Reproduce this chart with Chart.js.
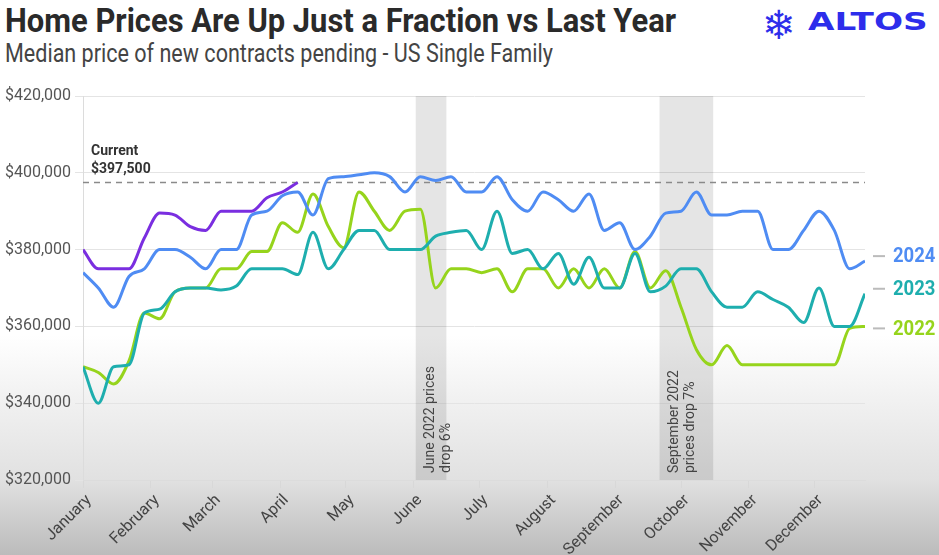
<!DOCTYPE html>
<html>
<head>
<meta charset="utf-8">
<script src="https://cdn.jsdelivr.net/npm/chart.js@4"></script>
<style>
  body {
    margin: 0; width: 939px; height: 555px; overflow: hidden; position: relative;
    font-family: Roboto, sans-serif;
    background: linear-gradient(to bottom, #fff 0px, #fff 335px, #f1f1f1 400px, #e1e1e1 480px, #bbbbbb 555px);
  }
  #chart { position: absolute; left: 0; top: 0; }
  .fit { position: absolute; white-space: nowrap; transform-origin: 0 0; line-height: 1; }
  #title { left: 5px; top: 3px; font-size: 34px; font-weight: 700; color: #2a2a2a; }
  #sub { left: 5px; top: 40px; font-size: 26px; color: #444; }
  #icon { left: 762px; top: 5px; font-size: 40px; color: #2d2deb; font-family: "DejaVu Sans"; }
  #brand { left: 808px; top: 9px; font-size: 25px; font-weight: 700; color: #2d2deb; font-family: "DejaVu Sans"; }
</style>
</head>
<body>
<div id="title" class="fit" data-w="671">Home Prices Are Up Just a Fraction vs Last Year</div>
<div id="sub" class="fit" data-w="548">Median price of new contracts pending - US Single Family</div>
<div id="icon" class="fit">❄</div>
<div id="brand" class="fit" data-w="119">ALTOS</div>
<canvas id="chart" width="939" height="555"></canvas>
<script>
// weekly median price of new pending contracts, in $ thousands (week 0 = first week of January)
const y2025 = [380, 375, 375, 375, 383, 389.5, 389, 386, 385, 390, 390, 390, 393.5, 395, 397.5];
const y2024 = [374, 370, 365, 373, 375, 380, 380, 378, 375, 380, 380, 389, 390, 394, 395, 389, 398.5, 399, 399.5, 400,
  399, 395, 399, 398, 399, 395, 395, 399, 393, 390, 395, 393, 390, 394.5, 385, 387, 380, 383.5, 389.5, 390,
  395, 389, 389, 390, 390, 380, 380, 385, 390, 385, 375, 377];
const y2023 = [349.5, 340, 349.5, 350, 363.5, 364.5, 369, 370, 370, 369.5, 370.5, 375, 375, 375, 373.5, 384.5, 375, 380, 385, 385,
  380, 380, 380, 383.5, 384.5, 385, 380, 390, 379, 380, 375, 379, 371, 378, 370, 370, 379, 369, 370.5, 375,
  375, 369, 365, 365, 369, 367, 365, 361, 370, 360, 360, 368.5];
const y2022 = [349.5, 348, 345, 351, 363.5, 362, 369, 370, 370, 375, 375, 379.5, 379.5, 387, 384.5, 394.5, 386, 380.5, 395, 390,
  385, 390, 390.5, 370, 375, 375, 374, 375, 369, 375, 375, 370, 375, 370, 375, 370, 379.5, 370, 374.5, 365,
  354, 350, 355, 350, 350, 350, 350, 350, 350, 350, 359.5, 360];

const months = ["January", "February", "March", "April", "May", "June", "July", "August", "September", "October", "November", "December"];
const monthDays = [0, 31, 59, 90, 120, 151, 181, 212, 243, 273, 304, 334];
const yTicks = [320000, 340000, 360000, 380000, 400000, 420000];
const current = 397500;

// shaded periods, in weeks
const bands = [
  { from: 21.7, to: 23.7, text: ["June 2022 prices", "drop 6%"] },
  { from: 37.6, to: 41.1, text: ["September 2022", "prices drop 7%"] }
];

// squeeze the header texts to the reference widths
document.querySelectorAll(".fit[data-w]").forEach(el => {
  el.style.transform = "scaleX(" + (el.dataset.w / el.offsetWidth) + ")";
});

const toPoints = arr => arr.map((v, i) => ({ x: i, y: v * 1000 }));

const extras = {
  id: "extras",
  beforeDatasetsDraw(chart) {
    const { ctx, chartArea: a, scales: { x, y } } = chart;
    ctx.save();
    bands.forEach(b => {
      const x0 = x.getPixelForValue(b.from), x1 = x.getPixelForValue(b.to);
      ctx.fillStyle = "rgba(0,0,0,0.1)";
      ctx.fillRect(x0, a.top, x1 - x0, a.bottom - a.top);
      ctx.fillStyle = "#444";
      ctx.font = "14px Roboto";
      ctx.textAlign = "left";
      ctx.textBaseline = "alphabetic";
      b.text.forEach((t, i) => {
        ctx.save();
        ctx.translate(x0 + 18 + i * 16, a.bottom - 7);
        ctx.rotate(-Math.PI / 2);
        ctx.fillText(t, 0, 0);
        ctx.restore();
      });
    });
    const yc = y.getPixelForValue(current);
    ctx.strokeStyle = "#8a8a8a";
    ctx.lineWidth = 1.5;
    ctx.setLineDash([6, 5]);
    ctx.beginPath();
    ctx.moveTo(a.left, yc);
    ctx.lineTo(a.right, yc);
    ctx.stroke();
    ctx.setLineDash([]);
    ctx.fillStyle = "#333";
    ctx.font = "bold 14px Roboto";
    ctx.textBaseline = "middle";
    ctx.fillText("Current", a.left + 8, yc - 31);
    ctx.fillText("$" + current.toLocaleString("en-US"), a.left + 8, yc - 13);
    ctx.restore();
  },
  afterDatasetsDraw(chart) {
    const { ctx, chartArea: a, scales: { y } } = chart;
    const nudge = { "2024": -5, "2023": -5, "2022": 2 };
    ctx.save();
    chart.data.datasets.forEach(ds => {
      if (!(ds.label in nudge)) return;
      const last = ds.data[ds.data.length - 1].y;
      const py = y.getPixelForValue(last) + nudge[ds.label];
      ctx.strokeStyle = "#bbb";
      ctx.lineWidth = 2;
      ctx.beginPath();
      ctx.moveTo(a.right + 8, py);
      ctx.lineTo(a.right + 20, py);
      ctx.stroke();
      ctx.fillStyle = ds.borderColor;
      ctx.font = "bold 21px Roboto";
      ctx.textBaseline = "middle";
      ctx.save();
      ctx.translate(a.right + 28, py);
      ctx.scale(0.88, 1);
      ctx.fillText(ds.label, 0, 1);
      ctx.restore();
    });
    ctx.restore();
  }
};

new Chart("chart", {
  type: "line",
  data: {
    datasets: [
      { label: "2025", data: toPoints(y2025), borderColor: "#7a2ee0" },
      { label: "2024", data: toPoints(y2024), borderColor: "#4f8cf3" },
      { label: "2023", data: toPoints(y2023), borderColor: "#1eaeae" },
      { label: "2022", data: toPoints(y2022), borderColor: "#96d41c" }
    ]
  },
  options: {
    responsive: false,
    animation: false,
    layout: { padding: { top: 96, right: 74, left: 0, bottom: 0 } },
    elements: {
      point: { radius: 0 },
      line: { borderWidth: 3, cubicInterpolationMode: "monotone" }
    },
    plugins: { legend: { display: false }, tooltip: { enabled: false } },
    scales: {
      x: {
        type: "linear",
        min: 0,
        max: 51,
        afterFit: s => { s.height = 75; },
        afterBuildTicks: s => { s.ticks = monthDays.map(d => ({ value: d / 7 })); },
        grid: { drawOnChartArea: false, tickLength: 8, color: "#d8d8d8" },
        border: { color: "#dcdcdc" },
        ticks: {
          autoSkip: false,
          minRotation: 45,
          maxRotation: 45,
          padding: 3,
          labelOffset: 6,
          color: "#444",
          font: { family: "Roboto", size: 16 },
          callback: (v, i) => months[i]
        }
      },
      y: {
        min: 320000,
        max: 420000,
        afterFit: s => { s.width = 83; },
        afterBuildTicks: s => { s.ticks = yTicks.map(v => ({ value: v })); },
        grid: { color: "#e4e4e4", tickLength: 8 },
        border: { color: "#dcdcdc" },
        ticks: {
          padding: 4,
          color: "#555",
          font: { family: "Roboto", size: 16 },
          callback: v => "$" + v.toLocaleString("en-US")
        }
      }
    }
  },
  plugins: [extras]
});
</script>
</body>
</html>
